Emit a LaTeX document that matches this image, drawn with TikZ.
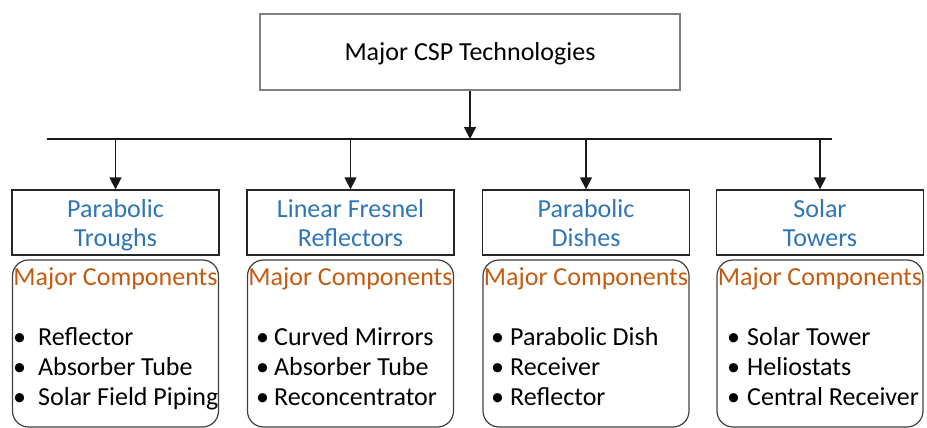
\documentclass[tikz,border=0pt]{standalone}
\usepackage{fontspec}
\setmainfont{Carlito}
\usetikzlibrary{arrows.meta}
\definecolor{hblue}{HTML}{2E75B6}
\definecolor{horange}{HTML}{C55A11}
\definecolor{tgray}{HTML}{808080}
\newcommand{\blt}[1]{\makebox[#1][l]{\textbullet}}
\begin{document}
\begin{tikzpicture}[x=1pt,y=-1pt,
  txt/.style={font=\fontsize{26}{30}\selectfont, inner sep=0pt},
  techbox/.style={draw=black!85, line width=1.3pt, minimum width=207pt, minimum height=65pt, inner sep=0pt},
  compbox/.style={draw=black!75, line width=1.2pt, rounded corners=16pt, minimum width=206pt, minimum height=167pt, inner sep=0pt},
  conn/.style={line width=1.5pt, black!90},
  arr/.style={conn, -{Triangle[width=12pt,length=12pt]}},
  blue/.style={txt, text=hblue, align=center},
  head/.style={txt, text=horange, anchor=base},
  item/.style={txt, anchor=base west}]
\useasboundingbox (0,0) rectangle (927,428);
% top
\node[draw=tgray, line width=1.3pt, minimum width=420pt, minimum height=76pt, inner sep=0pt] (top) at (470,52) {};
\node[txt, anchor=base] (toptxt) at (470,61) {Major CSP Technologies};
% bus
\coordinate (busL) at (47,139);
\coordinate (busR) at (832,139);
\coordinate (busM) at (top.south |- busL);
\draw[conn] (busL) -- (busR);
\draw[arr] (top.south) -- (busM);
% tech boxes
\node[techbox] (t1) at (115.5,222.5) {};
\node[techbox] (t2) at (350.5,222.5) {};
\node[techbox] (t3) at (586,222.5) {};
\node[techbox] (t4) at (820,222.5) {};
\foreach \i in {1,2,3,4}{
  \coordinate (b\i) at (t\i.north |- busL);
  \draw[arr] (b\i) -- (t\i.north);
}
\node[blue, anchor=base] (l1a) at (115.5,217) {Parabolic};
\node[blue, anchor=base] (l1b) at (115.5,246) {Troughs};
\node[blue, anchor=base] (l2a) at (350.5,217) {Linear Fresnel};
\node[blue, anchor=base] (l2b) at (350.5,246) {Reflectors};
\node[blue, anchor=base] (l3a) at (586,217) {Parabolic};
\node[blue, anchor=base] (l3b) at (586,246) {Dishes};
\node[blue, anchor=base] (l4a) at (820,217) {Solar};
\node[blue, anchor=base] (l4b) at (820,246) {Towers};
% component boxes
\node[compbox] (c1) at (115.5,343.5) {};
\node[compbox] (c2) at (350.5,343.5) {};
\node[compbox] (c3) at (586,343.5) {};
\node[compbox] (c4) at (820,343.5) {};
\foreach \i/\x in {1/115.5,2/350.5,3/586,4/820}{
  \node[head] (h\i) at (\x,285) {Major Components};
}
% items
\node[item] (i11) at (13,345) {\blt{25pt}Reflector};
\node[item] (i12) at (13,375) {\blt{25pt}Absorber Tube};
\node[item] (i13) at (13,405) {\blt{25pt}Solar Field Piping};
\node[item] (i21) at (256,345) {\blt{18pt}Curved Mirrors};
\node[item] (i22) at (256,375) {\blt{18pt}Absorber Tube};
\node[item] (i23) at (256,405) {\blt{18pt}Reconcentrator};
\node[item] (i31) at (491,345) {\blt{19pt}Parabolic Dish};
\node[item] (i32) at (491,375) {\blt{19pt}Receiver};
\node[item] (i33) at (491,405) {\blt{19pt}Reflector};
\node[item] (i41) at (727,345) {\blt{20pt}Solar Tower};
\node[item] (i42) at (727,375) {\blt{20pt}Heliostats};
\node[item] (i43) at (727,405) {\blt{20pt}Central Receiver};
\end{tikzpicture}
\end{document}
